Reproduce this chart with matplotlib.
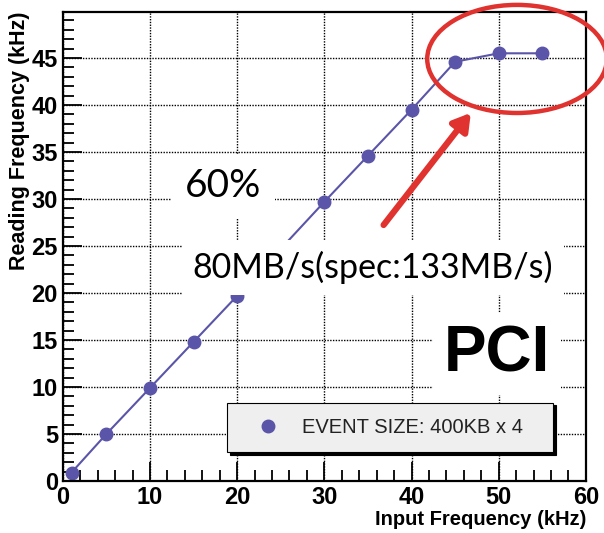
import matplotlib
matplotlib.use("Agg")
import matplotlib.pyplot as plt
from matplotlib.patches import Ellipse
from matplotlib.lines import Line2D
from matplotlib.ticker import MultipleLocator

input_freq = [1, 5, 10, 15, 20, 30, 35, 40, 45, 50, 55]
reading_freq = [0.9, 5.0, 9.9, 14.8, 19.7, 29.7, 34.6, 39.5, 44.6, 45.5, 45.5]
x_ticks = [0, 10, 20, 30, 40, 50, 60]
y_ticks = [0, 5, 10, 15, 20, 25, 30, 35, 40, 45]
legend_label = "EVENT SIZE: 400KB x 4"

plt.rcParams['font.family'] = ['Liberation Sans', 'DejaVu Sans']

fig = plt.figure(figsize=(6.04, 5.33), dpi=100)
ax = fig.add_axes([0.104, 0.0976, 0.866, 0.88])

col = '#5a55a8'
ax.plot(input_freq, reading_freq, color=col, lw=1.5, marker='o', ms=9, zorder=2)

ax.set_xlim(0, 60)
ax.set_ylim(0, 49.9)
ax.set_xticks(x_ticks)
ax.set_yticks(y_ticks)
ax.xaxis.set_minor_locator(MultipleLocator(2))
ax.yaxis.set_minor_locator(MultipleLocator(1))
ax.tick_params(which='both', direction='in', labelsize=17, width=1.3, colors='black')
ax.tick_params(which='major', length=14)
ax.tick_params(which='minor', length=8)
for lab in ax.get_xticklabels() + ax.get_yticklabels():
    lab.set_fontweight('bold')
for s in ax.spines.values():
    s.set_linewidth(1.6)
ax.grid(True, which='major', color='black', ls=(0, (1, 1)), lw=1.0)
ax.set_axisbelow(True)

ax.set_ylabel("Reading Frequency (kHz)", fontsize=15.5, fontweight='bold', loc='top', labelpad=1)
ax.set_xlabel("Input Frequency (kHz)", fontsize=14.5, fontweight='bold', loc='right', labelpad=1)

ax.text(0.306, 0.628, "60%", transform=ax.transAxes, fontsize=28, family=['Lato', 'DejaVu Sans'],
        ha='center', va='center', zorder=3,
        bbox=dict(facecolor='white', edgecolor='none', pad=10))
ax.text(0.593, 0.455, "80MB/s(spec:133MB/s)", transform=ax.transAxes, fontsize=24.5,
        family=['Lato', 'DejaVu Sans'], ha='center', va='center', zorder=3,
        bbox=dict(facecolor='white', edgecolor='none', pad=8))
ax.text(0.83, 0.27, "PCI", transform=ax.transAxes, fontsize=46, fontweight='heavy',
        ha='center', va='center', zorder=3,
        bbox=dict(facecolor='white', edgecolor='none', pad=8))

handle = Line2D([], [], color=col, marker='o', ms=9, ls='none')
leg = ax.legend([handle], [legend_label], loc='lower left',
                bbox_to_anchor=(0.314, 0.062, 0.623, 0.1), mode='expand',
                borderaxespad=0, fancybox=False, facecolor='#efefef', edgecolor='black',
                framealpha=1, prop={'size': 14.5}, handletextpad=0.35, borderpad=0.75,
                handlelength=2.6, shadow={'color': 'black', 'alpha': 1})
leg.get_frame().set_linewidth(0.8)
for t in leg.get_texts():
    t.set_color('#222222')
leg.set_zorder(5)

ax.add_patch(Ellipse((52.1, 44.9), 20.6, 11.5, fill=False, ec='#e0322e', lw=3.2,
                     clip_on=False, zorder=6))
ax.annotate("", xy=(47.0, 39.4), xytext=(36.6, 27.0),
            arrowprops=dict(arrowstyle='-|>,head_length=1.0,head_width=0.6',
                            color='#e0322e', lw=4.5), zorder=6)

fig.savefig("out.png", dpi=100)
